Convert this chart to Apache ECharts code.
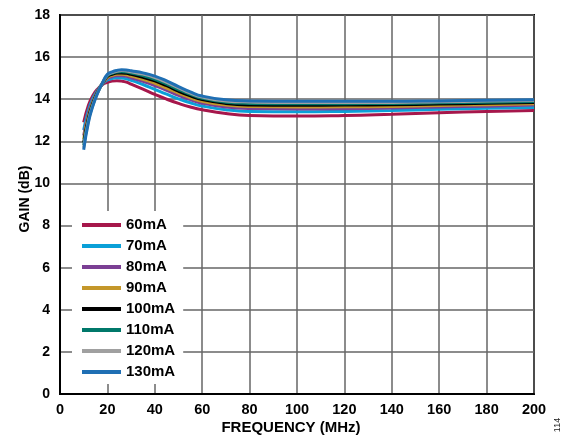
<!DOCTYPE html>
<html>
<head>
<meta charset="utf-8">
<script src="https://cdn.jsdelivr.net/npm/echarts@6/dist/echarts.min.js"></script>
<style>
html,body{margin:0;padding:0;background:#fff;}
#chart{width:576px;height:447px;}
</style>
</head>
<body>
<div id="chart"></div>
<script>
// Frequency points (MHz)
var freq = [10, 12, 14, 16, 18, 20, 22, 24, 26, 28, 30, 35, 40, 45, 50, 55, 60, 70, 80, 100, 120, 140, 160, 180, 200];
// Gain (dB) per bias current
var gain60  = [12.90, 13.72, 14.20, 14.50, 14.70, 14.80, 14.86, 14.88, 14.86, 14.81, 14.72, 14.48, 14.23, 14.00, 13.80, 13.63, 13.50, 13.32, 13.23, 13.20, 13.23, 13.29, 13.36, 13.42, 13.47];
var gain70  = [12.54, 13.49, 14.07, 14.45, 14.73, 14.91, 14.98, 15.02, 15.01, 14.97, 14.90, 14.70, 14.47, 14.24, 14.02, 13.83, 13.68, 13.50, 13.42, 13.40, 13.42, 13.46, 13.52, 13.57, 13.61];
var gain80  = [12.28, 13.33, 13.97, 14.41, 14.75, 14.98, 15.07, 15.12, 15.12, 15.09, 15.02, 14.85, 14.65, 14.42, 14.18, 13.98, 13.81, 13.63, 13.56, 13.54, 13.55, 13.58, 13.63, 13.67, 13.72];
var gain90  = [12.11, 13.22, 13.91, 14.39, 14.76, 15.03, 15.13, 15.18, 15.19, 15.16, 15.10, 14.95, 14.76, 14.53, 14.29, 14.07, 13.90, 13.72, 13.65, 13.63, 13.64, 13.66, 13.70, 13.74, 13.78];
var gain100 = [11.95, 13.12, 13.85, 14.37, 14.77, 15.08, 15.18, 15.24, 15.25, 15.23, 15.18, 15.04, 14.87, 14.64, 14.38, 14.16, 13.98, 13.80, 13.73, 13.71, 13.72, 13.74, 13.77, 13.81, 13.84];
var gain110 = [11.82, 13.04, 13.80, 14.35, 14.78, 15.12, 15.23, 15.29, 15.31, 15.29, 15.24, 15.12, 14.95, 14.72, 14.46, 14.23, 14.04, 13.86, 13.80, 13.78, 13.79, 13.80, 13.83, 13.86, 13.89];
var gain120 = [11.70, 12.97, 13.76, 14.33, 14.79, 15.15, 15.26, 15.33, 15.36, 15.34, 15.30, 15.19, 15.03, 14.80, 14.54, 14.29, 14.10, 13.92, 13.87, 13.84, 13.85, 13.85, 13.88, 13.91, 13.94];
var gain130 = [11.60, 12.90, 13.72, 14.32, 14.80, 15.18, 15.30, 15.37, 15.40, 15.39, 15.35, 15.25, 15.10, 14.87, 14.60, 14.35, 14.15, 13.97, 13.92, 13.90, 13.90, 13.90, 13.92, 13.95, 13.98];

var seriesNames = ['60mA', '70mA', '80mA', '90mA', '100mA', '110mA', '120mA', '130mA'];
var seriesValues = [gain60, gain70, gain80, gain90, gain100, gain110, gain120, gain130];
var seriesColors = ['#A6174B', '#0AA0D8', '#7B3F94', '#C4972A', '#000000', '#00786A', '#A0A0A0', '#1F6FB4'];

var xTicks = [0, 20, 40, 60, 80, 100, 120, 140, 160, 180, 200];
var yTicks = [0, 2, 4, 6, 8, 10, 12, 14, 16, 18];

var FONT = '"Liberation Sans", Arial, sans-serif';

var series = seriesNames.map(function (name, i) {
  return {
    name: name,
    type: 'line',
    smooth: 0.5,
    symbol: 'none',
    lineStyle: { width: 3, color: seriesColors[i] },
    itemStyle: { color: seriesColors[i] },
    data: freq.map(function (f, j) { return [f, seriesValues[i][j]]; }),
    z: 2 + i
  };
});

var chart = echarts.init(document.getElementById('chart'), null, { renderer: 'canvas' });
chart.setOption({
  animation: false,
  backgroundColor: '#fff',
  grid: {
    left: 60, right: 42, top: 15, bottom: 53,
    show: true, borderColor: '#000', borderWidth: 2, backgroundColor: 'transparent'
  },
  xAxis: {
    type: 'value',
    min: xTicks[0], max: xTicks[xTicks.length - 1], interval: 20,
    axisLine: { show: true, lineStyle: { color: '#000', width: 2 } },
    axisTick: { show: false },
    axisLabel: { color: '#000', fontFamily: FONT, fontWeight: 'bold', fontSize: 14.5, margin: 8 },
    splitLine: { show: true, lineStyle: { color: '#666', width: 1.5 } }
  },
  yAxis: {
    type: 'value',
    min: yTicks[0], max: yTicks[yTicks.length - 1], interval: 2,
    axisLine: { show: true, lineStyle: { color: '#000', width: 2 } },
    axisTick: { show: false },
    axisLabel: { color: '#000', fontFamily: FONT, fontWeight: 'bold', fontSize: 14, margin: 10 },
    splitLine: { show: true, lineStyle: { color: '#666', width: 1.5 } }
  },
  legend: {
    orient: 'vertical',
    left: 72, top: 211,
    padding: [6, 8, 4, 10],
    itemGap: 5,
    itemWidth: 39, itemHeight: 4,
    icon: 'rect',
    backgroundColor: '#fff',
    textStyle: { color: '#000', fontFamily: FONT, fontWeight: 'bold', fontSize: 15, lineHeight: 16 },
    data: seriesNames
  },
  graphic: [
    {
      type: 'text', x: 25, y: 199, rotation: Math.PI / 2,
      style: { text: 'GAIN (dB)', fill: '#000', font: 'bold 14px ' + FONT, textAlign: 'center', textVerticalAlign: 'middle' }
    },
    {
      type: 'text', x: 291, y: 428,
      style: { text: 'FREQUENCY (MHz)', fill: '#000', font: 'bold 15px ' + FONT, textAlign: 'center', textVerticalAlign: 'middle' }
    },
    {
      type: 'text', x: 558, y: 425, rotation: Math.PI / 2,
      style: { text: '114', fill: '#222', font: '9px ' + FONT, textAlign: 'center', textVerticalAlign: 'middle' }
    }
  ],
  series: series
});
</script>
</body>
</html>
